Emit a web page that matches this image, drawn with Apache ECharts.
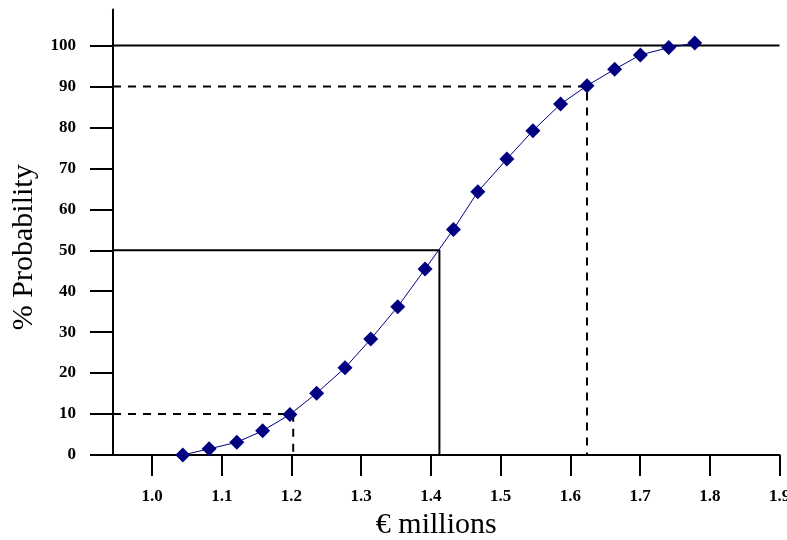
<!DOCTYPE html>
<html>
<head>
<meta charset="utf-8">
<script src="https://cdn.jsdelivr.net/npm/echarts@6/dist/echarts.min.js"></script>
<style>html,body{margin:0;padding:0;background:#fff}#c{width:787px;height:540px}</style>
</head>
<body>
<div id="c"></div>
<script>
// Cumulative probability curve (x in € millions, y in % probability)
const xValues = [1.0441, 1.0819, 1.1216, 1.1586, 1.1978, 1.2361, 1.2768, 1.3137, 1.3524, 1.3916,
                 1.4323, 1.4673, 1.5090, 1.5463, 1.5860, 1.6239, 1.6635, 1.7004, 1.7411, 1.7784];
const yValues = [0.0, 1.5, 3.1, 5.9, 9.9, 15.1, 21.3, 28.3, 36.2, 45.4,
                 55.1, 64.3, 72.3, 79.2, 85.7, 90.2, 94.2, 97.7, 99.5, 100.6];
const xTicks = [1.0, 1.1, 1.2, 1.3, 1.4, 1.5, 1.6, 1.7, 1.8, 1.9];
const yTicks = [0, 10, 20, 30, 40, 50, 60, 70, 80, 90, 100];
const xMin = 0.944, xMax = 1.9, yMin = 0, yMax = 108.8;
// Reference guide lines: [probability level, x value where it meets the curve]
const p10 = [10, 1.2025];
const p50 = [50, 1.4122];
const p90 = [90, 1.6239];
const p100 = 100;

const font = "'Liberation Serif','Times New Roman',serif";
const curve = xValues.map((x, i) => [x, yValues[i]]);
function guide(p) { return [[xMin, p[0]], [p[1], p[0]], [p[1], 0]]; }

const chart = echarts.init(document.getElementById('c'));
chart.setOption({
  animation: false,
  grid: { left: 113, right: 7.5, top: 9.5, bottom: 85, containLabel: false, outerBoundsMode: 'none' },
  xAxis: {
    type: 'value', min: xMin, max: xMax,
    name: '€ millions', nameLocation: 'middle', nameGap: 52,
    nameTextStyle: { fontFamily: font, fontSize: 30, color: '#000', padding: [0, 20, 0, 0] },
    axisLine: { lineStyle: { color: '#000', width: 2 } },
    axisTick: { show: true, length: 21, lineStyle: { color: '#000', width: 2 }, customValues: xTicks },
    axisLabel: { customValues: xTicks, margin: 33, fontFamily: font, fontSize: 17, fontWeight: 'bold', color: '#000',
                 formatter: v => v.toFixed(1) },
    splitLine: { show: false }
  },
  yAxis: {
    type: 'value', min: yMin, max: yMax,
    name: '% Probability', nameLocation: 'middle', nameGap: 68, nameRotate: 90,
    nameTextStyle: { fontFamily: font, fontSize: 30, color: '#000', padding: [0, 30, 0, 0] },
    axisLine: { show: true, lineStyle: { color: '#000', width: 2 } },
    axisTick: { show: true, length: 23, lineStyle: { color: '#000', width: 2 }, customValues: yTicks },
    axisLabel: { customValues: yTicks, margin: 37, fontFamily: font, fontSize: 17, fontWeight: 'bold', color: '#000' },
    splitLine: { show: false }
  },
  series: [
    { type: 'line', data: [[xMin, p100], [xMax, p100]], symbol: 'none', silent: true,
      lineStyle: { color: '#000', width: 2 }, z: 1 },
    { type: 'line', data: guide(p90), symbol: 'none', silent: true,
      lineStyle: { color: '#000', width: 2, type: [8, 7] }, z: 1 },
    { type: 'line', data: guide(p50), symbol: 'none', silent: true,
      lineStyle: { color: '#000', width: 2 }, z: 1 },
    { type: 'line', data: guide(p10), symbol: 'none', silent: true,
      lineStyle: { color: '#000', width: 2, type: [8, 7] }, z: 1 },
    { type: 'line', data: curve, symbol: 'diamond', symbolSize: 15,
      itemStyle: { color: '#000080' }, lineStyle: { color: '#000080', width: 1 }, z: 5 }
  ]
});
</script>
</body>
</html>
